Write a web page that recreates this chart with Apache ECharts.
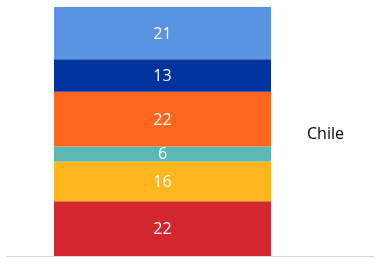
<!DOCTYPE html>
<html><head><meta charset="utf-8">
<script src="https://cdn.jsdelivr.net/npm/echarts@6/dist/echarts.min.js"></script>
<style>html,body{margin:0;padding:0;background:#fff}#c{width:376px;height:265px}</style>
</head><body><div id="c"></div>
<script>
const categories = ['Chile'];
const seriesNames = ['S1', 'S2', 'S3', 'S4', 'S5', 'S6'];
const seriesValues = [[22], [16], [6], [22], [13], [21]];
const colors = ['#D3262F', '#FFB51C', '#5CB8B2', '#FF671F', '#0033A0', '#5B93E3'];
const font = 'Open Sans';
const chart = echarts.init(document.getElementById('c'), null, {renderer: 'canvas'});
chart.setOption({
  animation: false,
  title: {text: categories[0], left: 307, top: 126, padding: 0, textStyle: {fontFamily: font, fontSize: 16, fontWeight: 'normal', color: '#000'}},
  grid: [
    {left: 54, width: 217, top: 7, bottom: 9},
    {left: 7, right: 2, top: 7, bottom: 9}
  ],
  xAxis: [
    {type: 'category', gridIndex: 0, data: categories, axisLine: {show: false}, axisTick: {show: false}, axisLabel: {show: false}},
    {type: 'category', gridIndex: 1, data: [''], axisLine: {show: true, lineStyle: {color: '#D9D9D9', width: 1}}, axisTick: {show: false}, axisLabel: {show: false}}
  ],
  yAxis: [
    {type: 'value', gridIndex: 0, min: 0, max: 100, show: false},
    {type: 'value', gridIndex: 1, min: 0, max: 100, show: false}
  ],
  series: seriesValues.map((v, i) => ({
    name: seriesNames[i], type: 'bar', stack: 'a', data: v, barWidth: '100%',
    itemStyle: {color: colors[i]},
    label: {show: true, position: 'inside', color: '#fff', fontFamily: font, fontSize: 16, offset: [0, 1]}
  }))
});
</script></body></html>
